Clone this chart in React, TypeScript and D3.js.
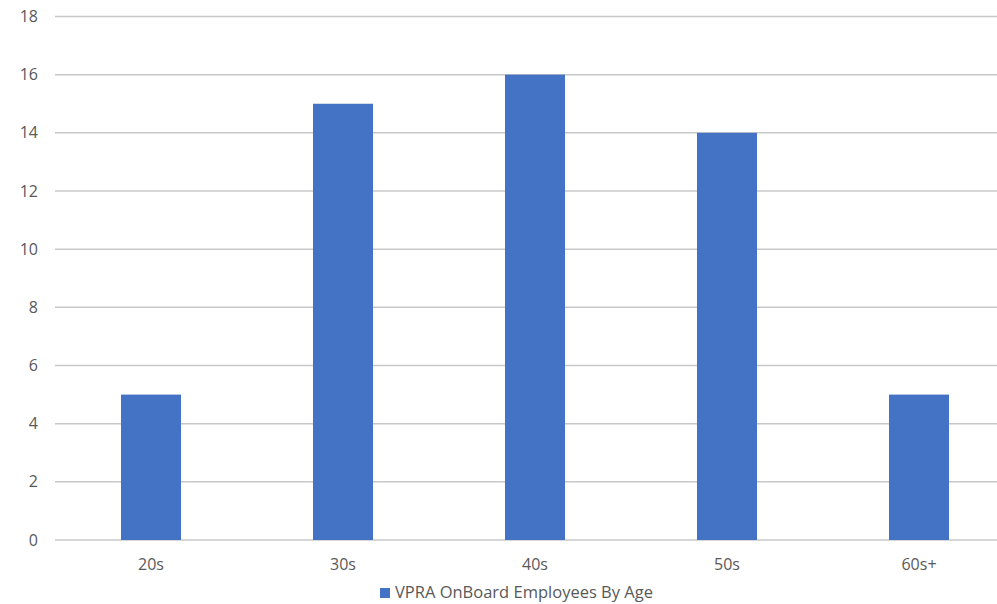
import React from "react";
import * as d3 from "d3";

const categories = ["20s", "30s", "40s", "50s", "60s+"];
const values = [5, 15, 16, 14, 5];
const yTicks = [0, 2, 4, 6, 8, 10, 12, 14, 16, 18];
const seriesName = "VPRA OnBoard Employees By Age";

const W = 997;
const H = 604;
const FONT = "'Open Sans', sans-serif";

export default function App() {
  const x = d3.scaleBand<string>().domain(categories).range([55, 1015]).paddingInner(0.6875).paddingOuter(0.34375);
  const y = d3.scaleLinear().domain([0, 18]).range([540, 16.5]);
  const bw = 60;
  return (
    <svg width={W} height={H} style={{ position: "absolute", left: 0, top: 0, background: "#fff" }}>
      {yTicks.map((t) => (
        <g key={t}>
          <line x1={55} x2={W} y1={y(t)} y2={y(t)} stroke="#c8c8c8" strokeWidth={1.5} />
          <text x={38} y={y(t)} dy="0.35em" textAnchor="end" fontFamily={FONT} fontSize={16} fill="#595959">
            {t}
          </text>
        </g>
      ))}
      {categories.map((c, i) => {
        const cx = x(c)! + x.bandwidth() / 2;
        return (
          <g key={c}>
            <rect x={cx - bw / 2} y={y(values[i])} width={bw} height={y(0) - y(values[i])} fill="#4472C4" />
            <text x={cx} y={570} textAnchor="middle" fontFamily={FONT} fontSize={16} fill="#595959">
              {c}
            </text>
          </g>
        );
      })}
      <rect x={380} y={588} width={10} height={10} fill="#4472C4" />
      <text x={395} y={598} fontFamily={FONT} fontSize={16.5} fill="#595959">
        {seriesName}
      </text>
    </svg>
  );
}
